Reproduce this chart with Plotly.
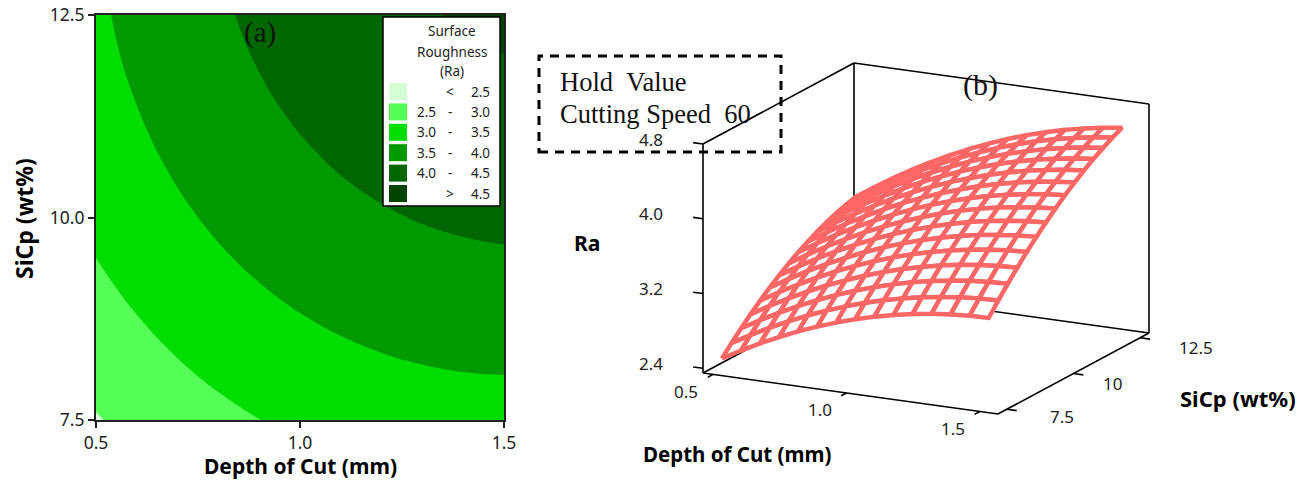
import plotly.graph_objects as go

depth = [0.5, 0.5714, 0.6429, 0.7143, 0.7857, 0.8571, 0.9286, 1.0, 1.0714, 1.1429, 1.2143, 1.2857, 1.3571, 1.4286, 1.5]
sicp = [7.5, 7.857, 8.214, 8.571, 8.929, 9.286, 9.643, 10.0, 10.357, 10.714, 11.071, 11.429, 11.786, 12.143, 12.5]
# rows: SiCp, columns: depth of cut
ra = [
 [2.470,2.583,2.688,2.784,2.873,2.952,3.024,3.088,3.143,3.190,3.228,3.259,3.281,3.295,3.300],
 [2.579,2.694,2.800,2.898,2.988,3.069,3.143,3.208,3.264,3.313,3.353,3.385,3.409,3.424,3.431],
 [2.682,2.798,2.906,3.006,3.097,3.180,3.255,3.322,3.380,3.430,3.472,3.505,3.531,3.548,3.556],
 [2.778,2.896,3.005,3.106,3.200,3.284,3.361,3.429,3.489,3.540,3.584,3.619,3.646,3.664,3.674],
 [2.869,2.988,3.099,3.202,3.297,3.383,3.461,3.531,3.592,3.645,3.690,3.727,3.755,3.776,3.788],
 [2.953,3.074,3.187,3.291,3.387,3.475,3.555,3.626,3.689,3.744,3.790,3.828,3.858,3.880,3.894],
 [3.031,3.153,3.268,3.374,3.471,3.561,3.642,3.715,3.779,3.836,3.884,3.924,3.955,3.979,3.994],
 [3.103,3.227,3.342,3.450,3.549,3.640,3.723,3.797,3.864,3.922,3.971,4.013,4.046,4.071,4.087],
 [3.168,3.294,3.411,3.520,3.621,3.714,3.798,3.874,3.942,4.001,4.053,4.096,4.130,4.157,4.175],
 [3.227,3.354,3.473,3.584,3.686,3.781,3.866,3.944,4.013,4.075,4.127,4.172,4.208,4.236,4.256],
 [3.280,3.409,3.529,3.642,3.746,3.841,3.929,4.008,4.079,4.142,4.196,4.242,4.280,4.310,4.331],
 [3.327,3.457,3.580,3.693,3.799,3.896,3.985,4.066,4.139,4.203,4.259,4.307,4.346,4.377,4.400],
 [3.368,3.500,3.623,3.739,3.846,3.945,4.035,4.118,4.192,4.258,4.315,4.365,4.406,4.439,4.463],
 [3.402,3.536,3.661,3.778,3.887,3.987,4.079,4.163,4.239,4.306,4.366,4.416,4.459,4.494,4.519],
 [3.430,3.565,3.692,3.811,3.921,4.023,4.117,4.202,4.280,4.349,4.409,4.462,4.506,4.542,4.570],
]
band_colors = ["#d5ffd5", "#55ff55", "#00dd00", "#009900", "#006600", "#004400"]
band_low = ["", "2.5", "3.0", "3.5", "4.0", ""]
band_sep = ["<", "-", "-", "-", "-", ">"]
band_high = ["2.5", "3.0", "3.5", "4.0", "4.5", "4.5"]
legend_title = ["Surface", "Roughness", "(Ra)"]
x_ticks = [0.5, 1.0, 1.5]
y_ticks = [7.5, 10.0, 12.5]
z_ticks = [2.4, 3.2, 4.0, 4.8]
s3_ticks = [7.5, 10, 12.5]
d_frame = [0.462, 1.568]
s_frame = [7.17, 12.83]
z_frame = [2.35, 4.80]

W, H = 1305, 482
SANS = "Noto Sans"
SERIF = "Liberation Serif"
TICKC = "#222222"
px = lambda v: v / W
py = lambda v: 1 - v / H
d0, d1 = d_frame; s0, s1 = s_frame; z0, z1 = z_frame


def project(d, s, z):
    """Oblique box projection of panel (b) onto the full-page overlay axes."""
    u = (d - d0) / (d1 - d0)
    v = (s - s0) / (s1 - s0)
    w = (z - z0) / (z1 - z0)
    return 703 + 295 * u + 151 * v, 373 + 41 * u - 81 * v - 229 * w


fig = go.Figure()

# (a) contour map
colorscale = [[0, band_colors[0]], [0.1, band_colors[0]], [0.1, band_colors[1]], [0.3, band_colors[1]],
              [0.3, band_colors[2]], [0.5, band_colors[2]], [0.5, band_colors[3]], [0.7, band_colors[3]],
              [0.7, band_colors[4]], [0.9, band_colors[4]], [0.9, band_colors[5]], [1, band_colors[5]]]
fig.add_trace(go.Contour(x=depth, y=sicp, z=ra, zauto=False, zmin=2.25, zmax=4.75, autocontour=False,
                         contours=dict(start=2.5, end=4.5, size=0.5, coloring="fill", showlines=False),
                         line=dict(width=0), colorscale=colorscale, showscale=False, hoverinfo="skip",
                         xaxis="x", yaxis="y"))

# (b) box frame and ticks, then the surface painted back to front
edges = [((d0, s0, z0), (d1, s0, z0)), ((d1, s0, z0), (d1, s1, z0)), ((d0, s0, z0), (d0, s1, z0)),
         ((d0, s1, z0), (d1, s1, z0)), ((d0, s0, z0), (d0, s0, z1)), ((d0, s1, z0), (d0, s1, z1)),
         ((d1, s1, z0), (d1, s1, z1)), ((d0, s0, z1), (d0, s1, z1)), ((d0, s1, z1), (d1, s1, z1))]
for v in x_ticks:
    edges.append(((v, s0, z0), (v, s0 - 0.2, z0)))
for v in s3_ticks:
    edges.append(((d1, v, z0), (d1 + 0.037, v, z0)))
for v in z_ticks:
    edges.append(((d0, s0, v), (d0 - 0.037, s0, v)))
fx, fy = [], []
for a, b in edges:
    xa, ya = project(*a); xb, yb = project(*b)
    fx += [xa, xb, None]; fy += [ya, yb, None]
fig.add_trace(go.Scatter(x=fx, y=fy, mode="lines", line=dict(color="black", width=1.6), hoverinfo="skip",
                         showlegend=False, xaxis="x2", yaxis="y2"))

for j in range(len(sicp) - 2, -1, -1):
    for i in range(len(depth) - 1):
        corners = [(i, j), (i + 1, j), (i + 1, j + 1), (i, j + 1), (i, j)]
        pts = [project(depth[a], sicp[b], ra[b][a]) for a, b in corners]
        fig.add_trace(go.Scatter(x=[p[0] for p in pts], y=[p[1] for p in pts], mode="lines", fill="toself",
                                 fillcolor="white", line=dict(color="#ff6666", width=4.5), hoverinfo="skip",
                                 showlegend=False, xaxis="x2", yaxis="y2"))

annotations = []
def text(x, y, t, size=13.5, family=SANS, color=TICKC, anchor="center", bold=False, angle=0):
    annotations.append(dict(x=px(x), y=py(y), xref="paper", yref="paper", text=f"<b>{t}</b>" if bold else t,
                            showarrow=False, xanchor=anchor, yanchor="middle", textangle=angle,
                            font=dict(family=family, size=size, color=color)))

def tick3(pos, t, dx, dy):
    x, y = project(*pos)
    annotations.append(dict(x=x, y=y, xref="x2", yref="y2", text=t, showarrow=False, xshift=dx, yshift=dy,
                            font=dict(family=SANS, size=17, color=TICKC)))

for v in x_ticks:
    tick3((v, s0, z0), f"{v:.1f}", -27, -17)
for v, dx, dy in zip(s3_ticks, [55, 39, 56], [-7, -10, -10]):
    tick3((d1, v, z0), str(v), dx, dy)
for v in z_ticks:
    tick3((d0, s0, v), f"{v:.1f}", -52, 5)

shapes = [dict(type="rect", xref="paper", yref="paper", x0=px(383), x1=px(500), y0=py(206), y1=py(17),
               fillcolor="white", line=dict(color="black", width=1.5), layer="above")]
for t, y in zip(legend_title, [31, 52, 71]):
    text(452, y, t)
for k, (c, lo, sep, hi) in enumerate(zip(band_colors, band_low, band_sep, band_high)):
    top = 83 + k * 20.4
    shapes.append(dict(type="rect", xref="paper", yref="paper", x0=px(389), x1=px(407),
                       y0=py(top + 17), y1=py(top), fillcolor=c, line=dict(width=0), layer="above"))
    cy = top + 8.5
    if lo:
        text(426, cy, lo)
    text(450, cy, sep)
    text(480, cy, hi)

shapes.append(dict(type="rect", xref="paper", yref="paper", x0=px(539), x1=px(781), y0=py(152), y1=py(56),
                   line=dict(color="black", width=3, dash="9px,7px"), layer="above"))

text(260, 33, "(a)", 29, SERIF, "#111111")
text(981, 85, "(b)", 30, SERIF, "#111111")
text(558, 82, "Hold&nbsp;&nbsp;Value", 26.5, SERIF, "#111111", anchor="left")
text(558, 114, "Cutting Speed&nbsp;&nbsp;60", 26.5, SERIF, "#111111", anchor="left")
text(300, 466, "Depth of Cut (mm)", 21, bold=True, color="black")
text(24, 219, "SiCp (wt%)", 23, bold=True, color="black", angle=-90)
text(587, 243, "Ra", 21, bold=True, color="black")
text(1238, 398, "SiCp (wt%)", 22, bold=True, color="black")
text(737, 454, "Depth of Cut (mm)", 20.5, bold=True, color="black")

axis_common = dict(showgrid=False, zeroline=False, showline=True, mirror=True, linecolor="#222222", linewidth=2,
                   ticks="outside", ticklen=6, tickwidth=2, tickcolor="#222222",
                   tickfont=dict(family=SANS, size=17.5, color=TICKC))

fig.update_layout(
    width=W, height=H, margin=dict(l=0, r=0, t=0, b=0, autoexpand=False), paper_bgcolor="white",
    plot_bgcolor="rgba(0,0,0,0)", showlegend=False, shapes=shapes, annotations=annotations,
    xaxis=dict(domain=[px(96), px(504)], range=[0.5, 1.5], tickvals=x_ticks, tickformat=".1f", **axis_common),
    yaxis=dict(domain=[py(420), py(15)], range=[7.5, 12.5], tickvals=y_ticks, tickformat=".1f", **axis_common),
    xaxis2=dict(domain=[0, 1], range=[0, W], visible=False, fixedrange=True),
    yaxis2=dict(domain=[0, 1], range=[H, 0], visible=False, fixedrange=True),
)
fig.write_html("out.html", config={"displayModeBar": False},
               post_script="document.body.style.margin='0';document.body.style.overflow='hidden';")
